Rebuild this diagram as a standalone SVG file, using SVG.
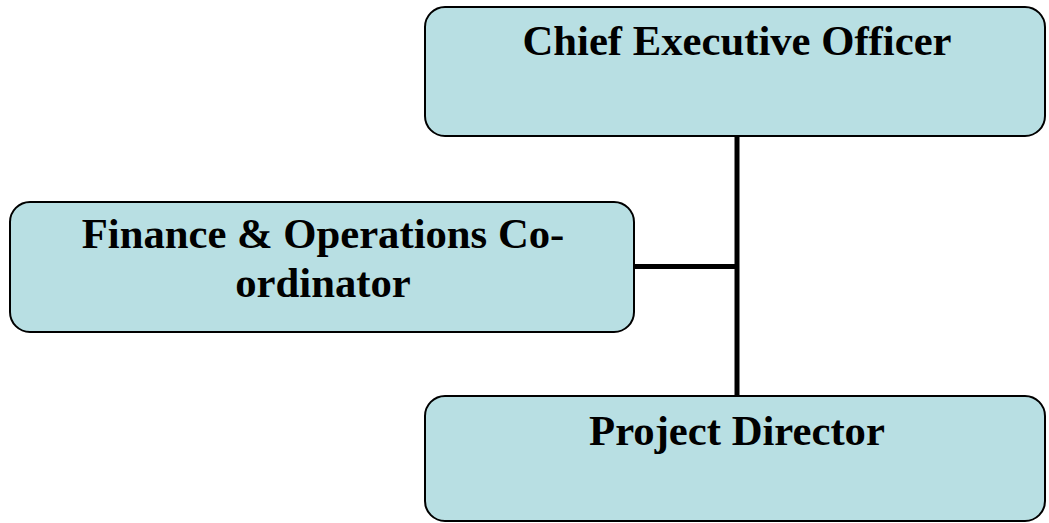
<svg xmlns="http://www.w3.org/2000/svg" width="1049" height="523" viewBox="0 0 1049 523">
  <style>
    .box { fill: #b8dfe3; stroke: #000; stroke-width: 2; }
    .label { font-family: "Liberation Serif", "Times New Roman", serif; font-weight: bold; font-size: 42.7px; fill: #000; text-anchor: middle; }
    .wire { stroke: #000; stroke-width: 5; fill: none; }
  </style>
  <rect width="1049" height="523" fill="#fff"/>
  <g id="connectors">
    <line class="wire" x1="737" y1="136" x2="737" y2="397"/>
    <line class="wire" x1="634" y1="266.5" x2="737" y2="266.5"/>
  </g>
  <g id="ceo">
    <rect class="box" x="425" y="7" width="620" height="129" rx="20"/>
    <text class="label" x="737" y="55">Chief Executive Officer</text>
  </g>
  <g id="finance">
    <rect class="box" x="10" y="202" width="624" height="130" rx="20"/>
    <text class="label" x="323" y="248">Finance &amp; Operations Co-</text>
    <text class="label" x="323" y="297">ordinator</text>
  </g>
  <g id="project-director">
    <rect class="box" x="425" y="396" width="620" height="125" rx="20"/>
    <text class="label" x="737" y="445">Project Director</text>
  </g>
</svg>
